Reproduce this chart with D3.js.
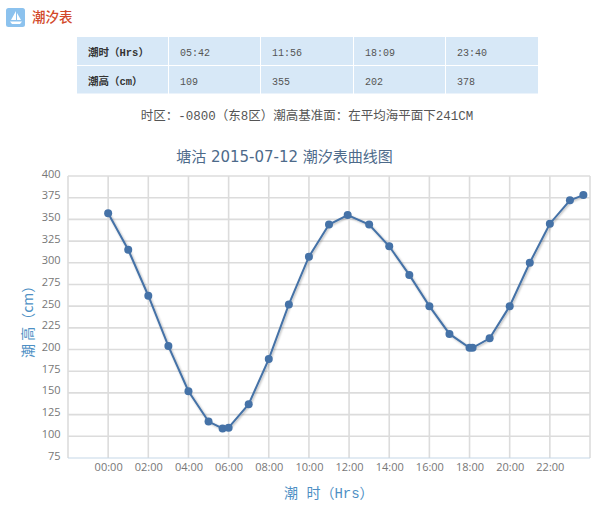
<!DOCTYPE html>
<html><head><meta charset="utf-8">
<script src="https://cdn.jsdelivr.net/npm/d3@7"></script>
<style>html,body{margin:0;padding:0;background:#fff}svg{display:block}</style>
</head><body><svg id="c" width="600" height="511"></svg>
<script>
const hours=[0,1,2,3,4,5,5.7,6,7,8,9,10,11,11.93,13,14,15,16,17,18,18.15,19,20,21,22,23,23.67];
const heights=[357,315,262,204,152,117,109,110,137,189,252,307,344,355,344,319,286,250,218,202,202,213,250,300,345,372,378];
const xTicks=[0,2,4,6,8,10,12,14,16,18,20,22];
const xTickLabels=["00:00","02:00","04:00","06:00","08:00","10:00","12:00","14:00","16:00","18:00","20:00","22:00"];
const yTicks=[75,100,125,150,175,200,225,250,275,300,325,350,375,400];
const rowHeads=["潮时（Hrs）","潮高（cm）"];
const tideTimes=["05:42","11:56","18:09","23:40"];
const tideHeights=["109","355","202","378"];
const heading="潮汐表";
const note="时区：-0800（东8区）潮高基准面：在平均海平面下241CM";
const chartTitle="塘沽 2015-07-12 潮汐表曲线图";
const xTitle="潮 时（Hrs）";
const yTitle="潮 高（cm）";

const svg=d3.select("#c");
const CJK='"Noto Sans CJK SC","Noto Sans",sans-serif';
const MONO='"Liberation Mono","Noto Sans CJK SC",monospace';
const TITLE='"DejaVu Sans","Noto Sans CJK SC",sans-serif';

// header icon
const ic=svg.append("g");
ic.append("rect").attr("x",6).attr("y",8).attr("width",19).attr("height",19).attr("rx",2.5).attr("fill","#8cc2ee");
ic.append("path").attr("d","M16 11 L16 20 L11 20 Z M17 13 L21 20 L17 20 Z").attr("fill","#fff");
ic.append("path").attr("d","M10 21.5 H22 L20 24 H12 Z").attr("fill","#fff");
svg.append("text").attr("x",32).attr("y",22).attr("font-family",CJK).attr("font-size",13.5).attr("font-weight",500).attr("fill","#d2492a").text(heading);

// table
const colEdges=[77,169,261,354,446,538], rowEdges=[37,66,93.5];
const tableRows=[[rowHeads[0],...tideTimes],[rowHeads[1],...tideHeights]];
tableRows.forEach((row,r)=>row.forEach((t,c)=>{
  const x0=colEdges[c], x1=colEdges[c+1]-(c<4?1:0), y0=rowEdges[r], y1=rowEdges[r+1]-(r<1?1:0);
  svg.append("rect").attr("x",x0).attr("y",y0).attr("width",x1-x0).attr("height",y1-y0).attr("fill","#d7e8f7");
  svg.append("text").attr("x",c==0?88:x0+11).attr("y",y0+18.5)
    .attr("font-family",MONO).attr("font-size",c==0?10.5:10)
    .attr("font-weight",c==0?700:400).attr("fill",c==0?"#333":"#555").text(t);
}));
svg.append("text").attr("x",307).attr("y",120).attr("text-anchor","middle").attr("font-family",MONO)
  .attr("font-size",12.5).attr("fill","#555").text(note);

// chart
const x=d3.scaleLinear().domain([-2,24]).range([68,590]);
const y=d3.scaleLinear().domain([75,400]).range([458,176]);

const gridY=svg.append("g");
gridY.selectAll("line").data(yTicks.slice(1)).join("line")
  .attr("x1",68).attr("x2",590).attr("y1",d=>y(d)).attr("y2",d=>y(d))
  .attr("stroke","#dcdcdc").attr("stroke-width",1.6);
const gridX=svg.append("g");
gridX.selectAll("line").data([-2,...xTicks,24]).join("line")
  .attr("x1",d=>x(d)).attr("x2",d=>x(d)).attr("y1",176).attr("y2",458)
  .attr("stroke","#dcdcdc").attr("stroke-width",1.6);
svg.append("line").attr("x1",68).attr("x2",590).attr("y1",458).attr("y2",458).attr("stroke","#c6d8e8").attr("stroke-width",1.2);

const labelFont='"Open Sans","DejaVu Sans",sans-serif';
const yAxis=d3.axisLeft(y).tickValues(yTicks).tickSize(0).tickPadding(7.5);
const ya=svg.append("g").attr("transform","translate(68,-2.5)").call(yAxis);
ya.select(".domain").remove();
ya.selectAll("text").attr("font-family",labelFont).attr("font-size",11).attr("fill","#777");

const xAxis=d3.axisBottom(x).tickValues(xTicks).tickFormat((d,i)=>xTickLabels[i]).tickSize(0).tickPadding(5);
const xa=svg.append("g").attr("transform","translate(0,458)").call(xAxis);
xa.select(".domain").remove();
xa.selectAll("text").attr("font-family",labelFont).attr("font-size",11).attr("fill","#777");

const pts=hours.map((h,i)=>[h,heights[i]]);
const line=d3.line().x(d=>x(d[0])).y(d=>y(d[1]));
const defs=svg.append("defs");
defs.append("filter").attr("id","sh").attr("x","-10%").attr("y","-10%").attr("width","120%").attr("height","120%")
  .append("feDropShadow").attr("dx",1).attr("dy",1).attr("stdDeviation",1).attr("flood-color","#000").attr("flood-opacity",0.3);
svg.append("path").datum(pts).attr("d",line).attr("fill","none").attr("stroke","#4572a7").attr("stroke-width",2).attr("filter","url(#sh)");
svg.append("g").selectAll("circle").data(pts).join("circle")
  .attr("cx",d=>x(d[0])).attr("cy",d=>y(d[1])).attr("r",4).attr("fill","#4572a7");

svg.append("text").attr("x",284.5).attr("y",162).attr("text-anchor","middle").attr("font-family",TITLE)
  .attr("font-size",15).attr("fill","#4d6a8a").text(chartTitle);
svg.append("text").attr("x",284).attr("y",498).attr("font-family",MONO)
  .attr("font-size",14).attr("fill","#4d8fc4").text(xTitle);
svg.append("text").attr("transform","translate(33,358) rotate(-90)").attr("font-family",CJK)
  .attr("font-size",14).attr("fill","#4d8fc4").text(yTitle);
</script></body></html>
